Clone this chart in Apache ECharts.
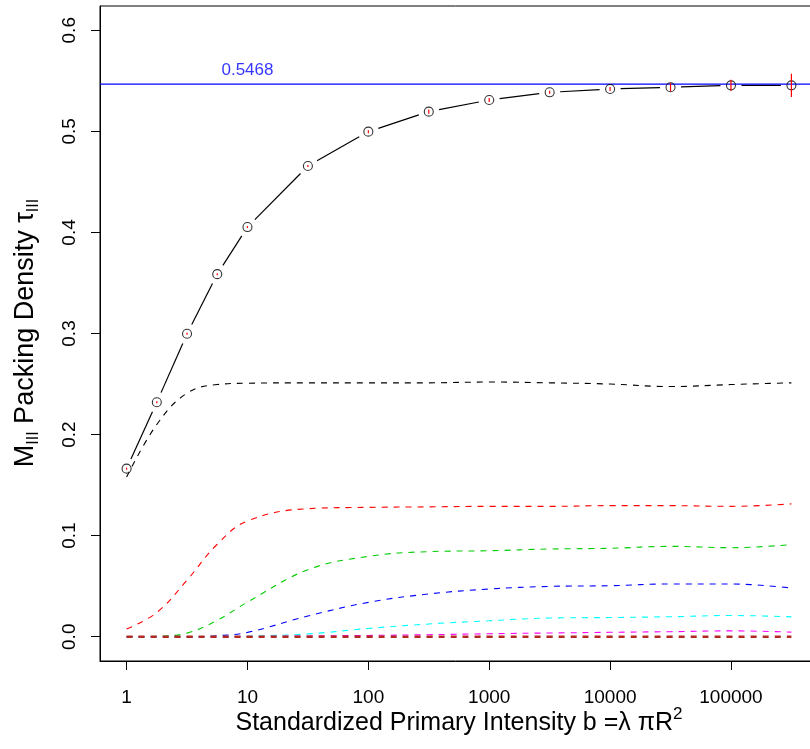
<!DOCTYPE html>
<html>
<head>
<meta charset="utf-8">
<script src="https://cdn.jsdelivr.net/npm/echarts@6/dist/echarts.min.js"></script>
<style>
  html, body { margin: 0; padding: 0; background: #ffffff; }
  #chart { width: 810px; height: 749px; }
</style>
</head>
<body>
<div id="chart"></div>
<script>
// Standardized primary intensity b = lambda * pi * R^2 (quarter-decade, then half-decade steps)
const intensity = [1, 1.778, 3.162, 5.623, 10, 31.62, 100, 316.2, 1000, 3162, 10000, 31623, 100000, 316228];

// Overall M_III packing density and the half-width of its error bar
const packingDensity = [0.1663, 0.2320, 0.2997, 0.3587, 0.4053, 0.4657, 0.4997, 0.5195, 0.5310, 0.5386, 0.5419, 0.5436, 0.5455, 0.5455];
const packingError   = [0.001, 0.001, 0.001, 0.001, 0.001, 0.001, 0.0015, 0.002, 0.002, 0.0015, 0.002, 0.004, 0.0055, 0.0115];

// Dashed component curves
const curveBlack   = [0.158, 0.210, 0.241, 0.2495, 0.2508, 0.2512, 0.2512, 0.2512, 0.2520, 0.2512, 0.2500, 0.2475, 0.2495, 0.2512];
const curveRed     = [0.0076, 0.024, 0.056, 0.0915, 0.1145, 0.1267, 0.128, 0.1285, 0.129, 0.129, 0.1297, 0.1297, 0.129, 0.1314];
const curveGreen   = [0.000, 0.0005, 0.0036, 0.0163, 0.0343, 0.0663, 0.0795, 0.0842, 0.0851, 0.0868, 0.0875, 0.0894, 0.0881, 0.0911];
const curveBlue    = [0.000, 0.000, 0.000, 0.001, 0.0043, 0.0205, 0.034, 0.0423, 0.0472, 0.0498, 0.0505, 0.0522, 0.0522, 0.0482];
const curveCyan    = [0.000, 0.000, 0.000, 0.000, 0.0005, 0.0028, 0.0082, 0.0126, 0.0158, 0.0185, 0.0190, 0.0198, 0.0210, 0.0197];
const curveMagenta = [0.000, 0.000, 0.000, 0.000, 0.0002, 0.0008, 0.0013, 0.0020, 0.0030, 0.0037, 0.0044, 0.0050, 0.0058, 0.0046];
const curveBrown   = [0, 0, 0, 0, 0, 0, 0, 0, 0, 0, 0, 0, 0, 0];

// Limiting density drawn as a horizontal reference line
const limitDensity = 0.5468;
const limitLabelAt = 10;

// Axis ranges and ticks
const xAxisMin = Math.pow(10, -0.22);
const xAxisMax = Math.pow(10, 5.72);
const yAxisMin = -0.024;
const yAxisMax = 0.624;
const xTickValues = [1, 10, 100, 1000, 10000, 100000];
const xTickLabels = ['1', '10', '100', '1000', '10000', '100000'];
const yTickValues = [0, 0.1, 0.2, 0.3, 0.4, 0.5, 0.6];
const yTickLabels = ['0.0', '0.1', '0.2', '0.3', '0.4', '0.5', '0.6'];

const FONT = '"Liberation Sans", Arial, Helvetica, sans-serif';
const POINT_GAP = 10.5; // px left blank around each point on the connecting line

const pairs = (ys) => intensity.map((x, i) => [x, ys[i]]);

function dashed(name, ys, color, width) {
  return {
    name: name,
    type: 'line',
    data: pairs(ys),
    showSymbol: false,
    smooth: 0.4,
    z: 3,
    silent: true,
    lineStyle: { color: color, width: width, type: [6, 6] }
  };
}

const chart = echarts.init(document.getElementById('chart'), null, { renderer: 'canvas' });

chart.setOption({
  animation: false,
  backgroundColor: '#ffffff',
  grid: {
    left: 100, top: 6, width: 718, bottom: 88,
    outerBoundsMode: 'none',
    containLabel: false,
    show: true, borderColor: '#000000', borderWidth: 1, backgroundColor: 'transparent'
  },
  xAxis: {
    type: 'log',
    logBase: 10,
    min: xAxisMin,
    max: xAxisMax,
    axisLine: { show: true, onZero: false, lineStyle: { color: '#000000', width: 1 } },
    axisTick: { show: true, customValues: xTickValues, length: 9, lineStyle: { color: '#000000' } },
    axisLabel: {
      show: true,
      customValues: xTickValues,
      formatter: (v) => xTickLabels[xTickValues.findIndex(t => Math.abs(Math.log10(t) - Math.log10(v)) < 1e-6)] || '',
      fontFamily: FONT, fontSize: 19, color: '#000000', margin: 27
    },
    splitLine: { show: false },
    minorTick: { show: false }
  },
  yAxis: {
    type: 'value',
    min: yAxisMin,
    max: yAxisMax,
    axisLine: { show: true, onZero: false, lineStyle: { color: '#000000', width: 1 } },
    axisTick: { show: true, customValues: yTickValues, length: 9, lineStyle: { color: '#000000' } },
    axisLabel: {
      show: true,
      customValues: yTickValues,
      formatter: (v) => yTickLabels[yTickValues.findIndex(t => Math.abs(t - v) < 1e-9)] || '',
      rotate: 90,
      fontFamily: FONT, fontSize: 19, color: '#000000', margin: 21
    },
    splitLine: { show: false }
  },
  graphic: [
    {
      type: 'text',
      x: 459, y: 723,
      silent: true,
      style: {
        text: '{m|Standardized Primary Intensity b =λ πR}{p|2}',
        align: 'center', verticalAlign: 'middle',
        fill: '#000000',
        rich: {
          m: { fontFamily: FONT, fontSize: 25, fill: '#000000' },
          p: { fontFamily: FONT, fontSize: 17, fill: '#000000', padding: [0, 0, 18, 0] }
        }
      }
    },
    {
      type: 'text',
      x: 26, y: 333,
      rotation: Math.PI / 2,
      silent: true,
      style: {
        text: '{m|M}{s|III}{m| Packing Density τ}{s|III}',
        align: 'center', verticalAlign: 'middle',
        fill: '#000000',
        rich: {
          m: { fontFamily: FONT, fontSize: 27, fill: '#000000' },
          s: { fontFamily: FONT, fontSize: 16, fill: '#000000', padding: [16, 0, 0, 0] }
        }
      }
    }
  ],
  series: [
    // connecting line of the overall density, broken around each point
    {
      name: 'density-line',
      type: 'custom',
      z: 2,
      silent: true,
      data: intensity.slice(0, -1).map((x, i) => [x, packingDensity[i], intensity[i + 1], packingDensity[i + 1]]),
      encode: { x: [0, 2], y: [1, 3] },
      renderItem: (params, api) => {
        const a = api.coord([api.value(0), api.value(1)]);
        const b = api.coord([api.value(2), api.value(3)]);
        const dx = b[0] - a[0], dy = b[1] - a[1];
        const len = Math.hypot(dx, dy);
        if (len <= 2 * POINT_GAP) return { type: 'group', children: [] };
        const ux = dx / len, uy = dy / len;
        return {
          type: 'line',
          shape: {
            x1: a[0] + ux * POINT_GAP, y1: a[1] + uy * POINT_GAP,
            x2: b[0] - ux * POINT_GAP, y2: b[1] - uy * POINT_GAP
          },
          style: { stroke: '#000000', lineWidth: 1.2 }
        };
      }
    },
    dashed('c1', curveBlack, '#000000', 1.1),
    dashed('c2', curveRed, '#ff0000', 1.1),
    dashed('c3', curveGreen, '#00cd00', 1.1),
    dashed('c4', curveBlue, '#0000ff', 1.1),
    dashed('c5', curveCyan, '#00ffff', 1.1),
    dashed('c6', curveMagenta, '#ff00ff', 1.1),
    dashed('c7', curveBrown, '#b02a22', 2.6),
    // limiting density: horizontal line across the plot
    {
      name: 'limit-line',
      type: 'line',
      data: [[xAxisMin, limitDensity], [xAxisMax, limitDensity]],
      showSymbol: false,
      z: 3,
      silent: true,
      lineStyle: { color: '#0000ff', width: 1.3 }
    },
    // value label of the limiting density
    {
      name: 'limit-label',
      type: 'scatter',
      data: [[limitLabelAt, limitDensity]],
      symbolSize: 1,
      z: 3,
      silent: true,
      itemStyle: { color: 'rgba(0,0,0,0)' },
      label: {
        show: true,
        position: 'top',
        distance: 5,
        formatter: () => String(limitDensity),
        fontFamily: FONT, fontSize: 17, color: '#0000ff'
      }
    },
    // open point markers
    {
      name: 'density-points',
      type: 'scatter',
      data: pairs(packingDensity),
      symbol: 'circle',
      symbolSize: 9,
      z: 4,
      silent: true,
      itemStyle: { color: 'rgba(0,0,0,0)', borderColor: '#000000', borderWidth: 1.1 }
    },
    // vertical error bars
    {
      name: 'density-error',
      type: 'custom',
      z: 5,
      silent: true,
      data: intensity.map((x, i) => [x, packingDensity[i], packingError[i]]),
      encode: { x: 0, y: 1 },
      renderItem: (params, api) => {
        const x = api.value(0), y = api.value(1), e = api.value(2);
        const lo = api.coord([x, y - e]);
        const hi = api.coord([x, y + e]);
        return {
          type: 'line',
          shape: { x1: lo[0], y1: lo[1], x2: hi[0], y2: hi[1] },
          style: { stroke: '#ff0000', lineWidth: 1.2 }
        };
      }
    }
  ]
});
</script>
</body>
</html>
